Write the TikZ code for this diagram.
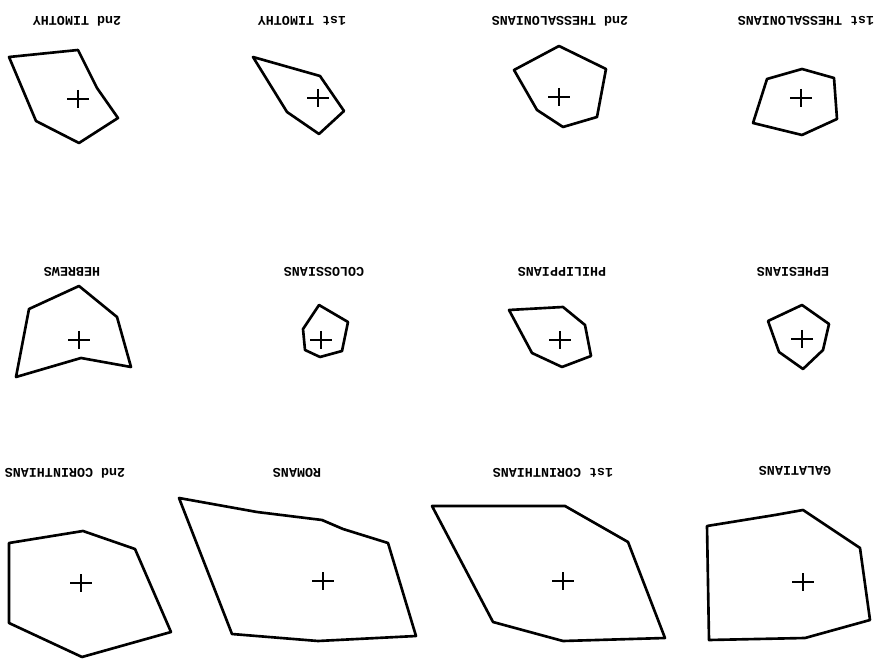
\documentclass[tikz,border=0pt]{standalone}
\usepackage{tikz}
\usepackage{fontspec}
\setmonofont{Liberation Mono}

\begin{document}
\begin{tikzpicture}[x=0.02cm,y=-0.02cm,
    poly/.style={line width=1.5pt,line join=round},
    lbl/.style={rotate=180,font=\fontsize{7.6}{9}\selectfont\ttfamily\bfseries},
    cross/.style={line width=1.3pt}]
      \useasboundingbox (0,0) rectangle (878,661);

      % Top row
      \draw[poly] (9,57) -- (78,50) -- (97,88) -- (118,118) -- (79,143) -- (36,121) -- cycle;
      \draw[poly] (253,57) -- (320,76) -- (344,111) -- (319,134) -- (287,112) -- cycle;
      \draw[poly] (514,70) -- (559,46) -- (606,69) -- (597,117) -- (563,127) -- (537,110) -- cycle;
      \draw[poly] (767,79) -- (802,69) -- (834,78) -- (837,119) -- (802,135) -- (753,123) -- cycle;
      \node[lbl] (tim2) at (77,21) {2nd TIMOTHY};
      \node[lbl] (tim1) at (302,21) {1st TIMOTHY};
      \node[lbl] (thes2) at (560,21) {2nd THESSALONIANS};
      \node[lbl] (thes1) at (806,21) {1st THESSALONIANS};

      % Middle row
      \draw[poly] (29,309) -- (79,286) -- (117,317) -- (131,367) -- (81,358) -- (16,377) -- cycle;
      \draw[poly] (319,305) -- (348,322) -- (342,351) -- (320,357) -- (305,350) -- (303,329) -- cycle;
      \draw[poly] (509,310) -- (563,307) -- (585,325) -- (591,356) -- (562,367) -- (532,353) -- cycle;
      \draw[poly] (768,321) -- (802,305) -- (829,324) -- (823,350) -- (803,369) -- (779,352) -- cycle;
      \node[lbl] (heb) at (72,272) {HEBREWS};
      \node[lbl] (col) at (324,272) {COLOSSIANS};
      \node[lbl] (phil) at (562,272) {PHILIPPIANS};
      \node[lbl] (eph) at (793,272) {EPHESIANS};

      % Bottom row
      \draw[poly] (9,543) -- (83,531) -- (135,549) -- (171,632) -- (82,657) -- (9,623) -- cycle;
      \draw[poly] (179,498) -- (257,512) -- (322,520) -- (343,529) -- (388,543) -- (416,636) -- (318,641) -- (232,634) -- cycle;
      \draw[poly] (432,506) -- (565,506) -- (628,542) -- (665,638) -- (563,641) -- (493,622) -- cycle;
      \draw[poly] (707,526) -- (775,515) -- (803,510) -- (860,548) -- (870,620) -- (805,638) -- (709,640) -- cycle;
      \node[lbl] (cor2) at (65,473) {2nd CORINTHIANS};
      \node[lbl] (rom) at (297,473) {ROMANS};
      \node[lbl] (cor1) at (553,473) {1st CORINTHIANS};
      \node[lbl] (gal) at (795,471) {GALATIANS};

      % Centre marks
      \foreach \cx/\cy in {78/99,318/98,559/97,801/98,
                           79/340,321/340,560/340,802/339,
                           81/583,323/581,563/581,803/582}
        \draw[cross] (\cx-11,\cy) -- (\cx+11,\cy) (\cx,\cy-9) -- (\cx,\cy+9);
    \end{tikzpicture}
\end{document}
